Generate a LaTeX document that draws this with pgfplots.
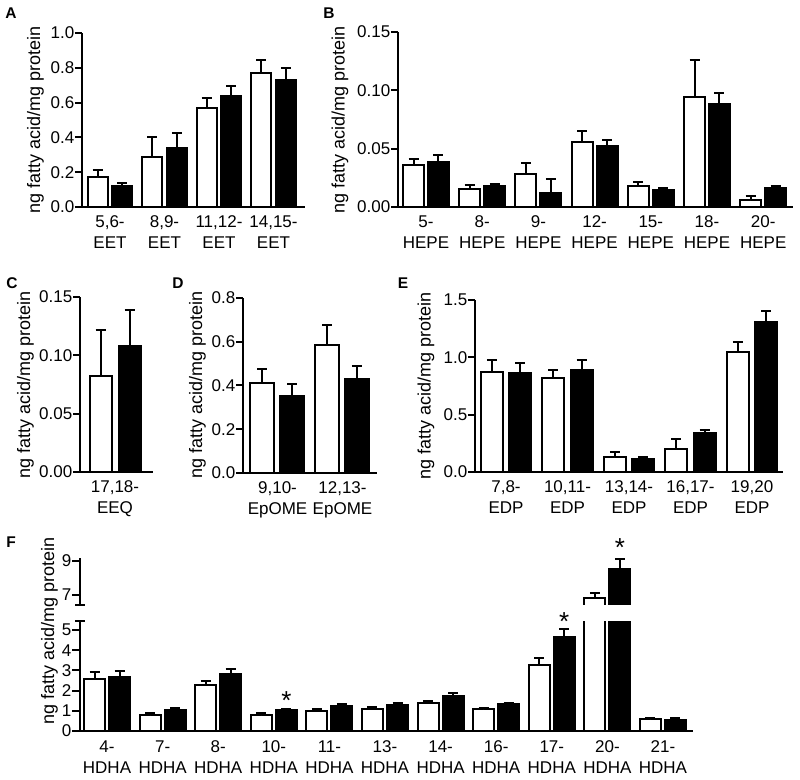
\documentclass[border=0pt]{standalone}
\usepackage{fontspec}
\setmainfont{Liberation Sans}
\usepackage{pgfplots}
\pgfplotsset{compat=1.18}
\pgfplotsset{
  panel/.style={
    scale only axis, axis lines*=left,
    axis line style={line width=2.3pt,-},
    tick align=outside, major tick length=7pt,
    ytick style={line width=2pt,black}, xtick style={draw=none},
    tick label style={font=\fontsize{17}{21}\selectfont},
    xticklabel style={align=center, yshift=4.5pt},
    yticklabel style={inner sep=0.5pt},
    ymin=0, clip mode=individual,
  },
  errs/.style={error bars/.cd, y dir=plus, y explicit,
    error bar style={line width=2pt,draw=black},
    error mark options={rotate=90,mark size=5pt,line width=2pt,draw=black}},
  wb/.style={ybar, bar width=#1pt, bar shift=0pt, fill=white, draw=black, line width=2pt, errs},
  bb/.style={ybar, bar width=#1pt, bar shift=0pt, fill=black, draw=black, line width=2pt, errs},
}
\begin{document}
\fontsize{17}{21}\selectfont
\begin{tikzpicture}
\useasboundingbox (0pt,0pt) rectangle (800pt,779pt);
% ---------------- A
\begin{axis}[panel, at={(82pt,572pt)}, anchor=south west, width=223pt, height=174pt,
  xmin=-0.514, xmax=3.578, ymax=1.0,
  ytick={0,0.2,0.4,0.6,0.8,1.0}, yticklabels={0.0,0.2,0.4,0.6,0.8,1.0},
  xtick={0,1,2,3}, xticklabels={{5,6-\\EET},{8,9-\\EET},{11,12-\\EET},{14,15-\\EET}}]
\addplot[wb=20] coordinates {(-0.226,0.17) +- (0,0.04) (0.774,0.285) +- (0,0.115) (1.774,0.567) +- (0,0.062) (2.774,0.77) +- (0,0.077)};
\addplot[bb=20] coordinates {(0.226,0.123) +- (0,0.015) (1.226,0.34) +- (0,0.087) (2.226,0.64) +- (0,0.056) (3.226,0.73) +- (0,0.07)};
\end{axis}
% ---------------- B
\begin{axis}[panel, at={(398pt,572pt)}, anchor=south west, width=395pt, height=175pt,
  xmin=-0.498, xmax=6.53, ymax=0.15,
  ytick={0,0.05,0.10,0.15}, yticklabels={0.00,0.05,0.10,0.15},
  xtick={0,...,6}, xticklabels={{5-\\HEPE},{8-\\HEPE},{9-\\HEPE},{12-\\HEPE},{15-\\HEPE},{18-\\HEPE},{20-\\HEPE}}]
\addplot[wb=21] coordinates {(-0.222,0.0362) +- (0,0.0048) (0.778,0.0158) +- (0,0.0029) (1.778,0.0282) +- (0,0.0092) (2.778,0.0557) +- (0,0.0093) (3.778,0.0178) +- (0,0.0038) (4.778,0.0943) +- (0,0.0317) (5.778,0.0057) +- (0,0.0041)};
\addplot[bb=21] coordinates {(0.222,0.0382) +- (0,0.0063) (1.222,0.0181) +- (0,0.0019) (2.222,0.012) +- (0,0.0119) (3.222,0.0523) +- (0,0.0055) (4.222,0.0144) +- (0,0.002) (5.222,0.0885) +- (0,0.0092) (6.222,0.0161) +- (0,0.0023)};
\end{axis}
% ---------------- C
\begin{axis}[panel, at={(80pt,307pt)}, anchor=south west, width=73pt, height=175pt,
  xmin=-35, xmax=38, ymax=0.15,
  ytick={0,0.05,0.10,0.15}, yticklabels={0.00,0.05,0.10,0.15},
  xtick={0}, xticklabels={{17,18-\\EEQ},{}}]
\addplot[wb=22] coordinates {(-14.5,0.0823) +- (0,0.039)};
\addplot[bb=22] coordinates {(14.5,0.1081) +- (0,0.031)};
\end{axis}
% ---------------- D
\begin{axis}[panel, at={(243pt,306pt)}, anchor=south west, width=134pt, height=175pt,
  xmin=-0.531, xmax=1.531, ymax=0.8,
  ytick={0,0.2,0.4,0.6,0.8}, yticklabels={0.0,0.2,0.4,0.6,0.8},
  xtick={0,1}, xticklabels={{9,10-\\EpOME},{12,13-\\EpOME}}]
\addplot[wb=24] coordinates {(-0.231,0.412) +- (0,0.062) (0.769,0.585) +- (0,0.092)};
\addplot[bb=24] coordinates {(0.223,0.351) +- (0,0.057) (1.223,0.431) +- (0,0.059)};
\end{axis}
% ---------------- E
\begin{axis}[panel, at={(475pt,307pt)}, anchor=south west, width=308pt, height=172pt,
  xmin=-0.504, xmax=4.504, ymax=1.5,
  ytick={0,0.5,1.0,1.5}, yticklabels={0.0,0.5,1.0,1.5},
  xtick={0,...,4}, xticklabels={{7,8-\\EDP},{10,11-\\EDP},{13,14-\\EDP},{16,17-\\EDP},{19,20\\EDP}}]
\addplot[wb=22] coordinates {(-0.228,0.876) +- (0,0.102) (0.772,0.818) +- (0,0.073) (1.772,0.128) +- (0,0.046) (2.772,0.2) +- (0,0.087) (3.772,1.05) +- (0,0.084)};
\addplot[bb=22] coordinates {(0.228,0.867) +- (0,0.082) (1.228,0.891) +- (0,0.087) (2.228,0.116) +- (0,0.017) (3.228,0.337) +- (0,0.026) (4.228,1.308) +- (0,0.093)};
\end{axis}
% ---------------- F lower
\begin{axis}[panel, at={(80pt,48pt)}, anchor=south west, width=613pt, height=110pt,
  xmin=-0.486, xmax=10.54, ymax=5.45, major tick length=8pt,
  ytick={0,1,2,3,4,5}, yticklabels={0,1,2,3,4,5},
  extra y ticks={5.45}, extra y tick labels={}, extra y tick style={tick align=center, major tick length=10pt},
  xtick={0,...,10}, xticklabels={{4-\\HDHA},{7-\\HDHA},{8-\\HDHA},{10-\\HDHA},{11-\\HDHA},{13-\\HDHA},{14-\\HDHA},{16-\\HDHA},{17-\\HDHA},{20-\\HDHA},{21-\\HDHA}}]
\addplot[wb=21] coordinates {(-0.225,2.57) +- (0,0.35) (0.775,0.78) +- (0,0.12) (1.775,2.28) +- (0,0.2) (2.775,0.78) +- (0,0.09) (3.775,1.0) +- (0,0.1) (4.775,1.1) +- (0,0.08) (5.775,1.4) +- (0,0.1) (6.775,1.07) +- (0,0.06) (7.775,3.28) +- (0,0.34) (8.775,6.82) +- (0,0.3) (9.775,0.58) +- (0,0.07)};
\addplot[bb=21] coordinates {(0.225,2.7) +- (0,0.25) (1.225,1.03) +- (0,0.09) (2.225,2.82) +- (0,0.25) (3.225,1.03) +- (0,0.05) (4.225,1.25) +- (0,0.08) (5.225,1.27) +- (0,0.13) (6.225,1.73) +- (0,0.14) (7.225,1.32) +- (0,0.06) (8.225,4.65) +- (0,0.4) (9.225,8.53) +- (0,0.57) (10.225,0.55) +- (0,0.07)};
\node[anchor=north, inner sep=0pt, font=\fontsize{26}{26}\selectfont] at (axis cs:3.225,1.98) {*};
\node[anchor=north, inner sep=0pt, font=\fontsize{26}{26}\selectfont] at (axis cs:8.225,5.89) {*};
\end{axis}
% ---------------- F upper (only the 20-HDHA bars reach it)
\begin{axis}[panel, at={(80pt,174pt)}, anchor=south west, width=613pt, height=47pt,
  xmin=-0.486, xmax=10.54, ymin=6.41, ymax=9.18, major tick length=8pt,
  x axis line style={draw=none}, xtick=\empty,
  ytick={7,9}, yticklabels={7,9},
  extra y ticks={6.41}, extra y tick labels={}, extra y tick style={tick align=center, major tick length=10pt}]
% open-bottomed outline of the white 20-HDHA bar (value 6.82)
\addplot[line width=2pt, black, mark=none] coordinates {(8.586,6.30) (8.586,6.82) (8.964,6.82) (8.964,6.30)};
\addplot[ybar, bar width=21pt, bar shift=0pt, draw=none, fill=none, errs] coordinates {(8.775,6.82) +- (0,0.3)};
\addplot[bb=21] coordinates {(9.225,8.53) +- (0,0.57)};
\node[anchor=north, inner sep=0pt, font=\fontsize{26}{26}\selectfont] at (axis cs:9.225,10.34) {*};
\end{axis}
% ---------------- labels
\foreach \x/\y in {35.5/659, 340/659, 25.5/394, 197.5/394, 426/393, 49.5/148}
  \node[rotate=90, inner sep=0pt, font=\fontsize{18}{21}\selectfont] at (\x pt,\y pt) {ng fatty acid/mg protein};
\begin{scope}[every node/.style={font=\fontsize{15.5}{18}\selectfont\bfseries, inner sep=0pt}]
\node at (11pt,766pt) {A};
\node at (329pt,766pt) {B};
\node at (12pt,496pt) {C};
\node at (178pt,496pt) {D};
\node at (403pt,496pt) {E};
\node at (11pt,237pt) {F};
\end{scope}
\end{tikzpicture}
\end{document}
